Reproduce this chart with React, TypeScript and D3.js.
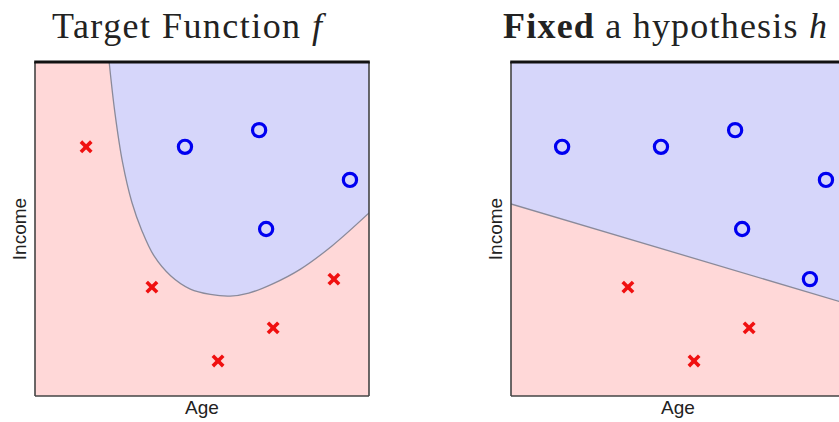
import React from "react";
import * as d3 from "d3";

// Sample points: age, income (both on a 0–100 scale)
const ages = [15.3, 44.9, 67.1, 94.3, 69.2, 35.0, 89.5, 71.3, 54.8];
const incomes = [74.6, 74.6, 79.6, 64.7, 50.0, 32.6, 35.0, 20.4, 10.5];
// +1 = approved (circle), -1 = denied (cross)
const targetLabels = [-1, 1, 1, 1, 1, -1, -1, -1, -1];
const hypothesisLabels = [1, 1, 1, 1, 1, -1, 1, -1, -1];

// Decision boundary of the target function f (age, income)
const boundaryAge = [22.2, 23.9, 26.2, 29.0, 32.0, 35.6, 40.6, 46.5, 52.5, 58.4, 64.0, 71.0, 79.5, 89.0, 100];
const boundaryIncome = [100, 85.0, 70.0, 58.0, 49.5, 42.0, 36.0, 32.0, 30.4, 29.9, 30.8, 33.5, 38.0, 45.0, 54.8];

// Linear hypothesis h: income at age 0 and age 100
const lineAge = [0, 100];
const lineIncome = [57.5, 27.8];

const W = 839;
const H = 422;
const SIZE = 334;
const TOP = 62;
const PINK = "#ffd8d8";
const BLUE = "#d6d6fa";

type PanelProps = {
  x0: number;
  id: string;
  region: [number, number][];
  boundary: [number, number][];
  labels: number[];
  smooth: boolean;
};

function Panel({ x0, id, region, boundary, labels, smooth }: PanelProps) {
  const x = d3.scaleLinear().domain([0, 100]).range([x0, x0 + SIZE]);
  const y = d3.scaleLinear().domain([0, 100]).range([TOP + SIZE, TOP]);
  const curve = smooth ? d3.curveCatmullRom.alpha(0.5) : d3.curveLinear;
  const line = d3
    .line<[number, number]>()
    .x((d) => x(d[0]))
    .y((d) => y(d[1]))
    .curve(curve);
  const regionPath =
    line(region.slice(0, boundary.length)) +
    region
      .slice(boundary.length)
      .map((d) => `L${x(d[0])},${y(d[1])}`)
      .join("") +
    "Z";
  const s = 5.2;
  return (
    <g>
      <defs>
        <clipPath id={id}>
          <rect x={x0} y={TOP} width={SIZE} height={SIZE} />
        </clipPath>
      </defs>
      <g clipPath={`url(#${id})`}>
        <rect x={x0} y={TOP} width={SIZE} height={SIZE} fill={PINK} />
        <path d={regionPath} fill={BLUE} />
        <path d={line(boundary) || ""} fill="none" stroke="#8a8a9a" strokeWidth={1.3} />
      </g>
      {/* frame */}
      <line x1={x0} x2={x0 + SIZE} y1={TOP + SIZE} y2={TOP + SIZE} stroke="#444" strokeWidth={1.6} />
      <line x1={x0} x2={x0} y1={TOP} y2={TOP + SIZE} stroke="#444" strokeWidth={1.6} />
      <line x1={x0 + SIZE} x2={x0 + SIZE} y1={TOP} y2={TOP + SIZE} stroke="#444" strokeWidth={1.6} />
      <line x1={x0 - 0.8} x2={x0 + SIZE + 0.8} y1={TOP} y2={TOP} stroke="#111" strokeWidth={3} />
      {ages.map((a, i) => {
        const cx = x(a);
        const cy = y(incomes[i]);
        return labels[i] > 0 ? (
          <circle key={i} cx={cx} cy={cy} r={6.6} fill="none" stroke="#0000f0" strokeWidth={3.2} />
        ) : (
          <g key={i} stroke="#f01010" strokeWidth={3.6} strokeLinecap="butt">
            <line x1={cx - s} y1={cy - s} x2={cx + s} y2={cy + s} />
            <line x1={cx - s} y1={cy + s} x2={cx + s} y2={cy - s} />
          </g>
        );
      })}
      <text
        x={x0 + SIZE / 2}
        y={414}
        textAnchor="middle"
        fontFamily="'Liberation Sans', Arial, sans-serif"
        fontSize={19}
        fill="#222"
      >
        Age
      </text>
      <text
        transform={`translate(${x0 - 9},${TOP + SIZE / 2}) rotate(-90)`}
        textAnchor="middle"
        fontFamily="'Liberation Sans', Arial, sans-serif"
        fontSize={19}
        fill="#222"
      >
        Income
      </text>
    </g>
  );
}

export default function App() {
  const boundary: [number, number][] = boundaryAge.map((a, i) => [a, boundaryIncome[i]]);
  const leftRegion: [number, number][] = [...boundary, [100, 100]];
  const hLine: [number, number][] = lineAge.map((a, i) => [a, lineIncome[i]]);
  const rightRegion: [number, number][] = [...hLine, [100, 100], [0, 100]];
  const serif = "'Liberation Serif', 'DejaVu Serif', serif";
  return (
    <svg
      width={W}
      height={H}
      style={{ position: "absolute", left: 0, top: 0, background: "#fff" }}
    >
      <text x={52} y={38} fontFamily={serif} fontSize={36} fill="#222" textLength={270}>
        Target Function <tspan fontStyle="italic">f</tspan>
      </text>
      <text x={503} y={38} fontFamily={serif} fontSize={36} fill="#222" textLength={324}>
        <tspan fontWeight="bold">Fixed</tspan> a hypothesis <tspan fontStyle="italic">h</tspan>
      </text>
      <Panel x0={35} id="clipF" region={leftRegion} boundary={boundary} labels={targetLabels} smooth />
      <Panel x0={511} id="clipH" region={rightRegion} boundary={hLine} labels={hypothesisLabels} smooth={false} />
    </svg>
  );
}
